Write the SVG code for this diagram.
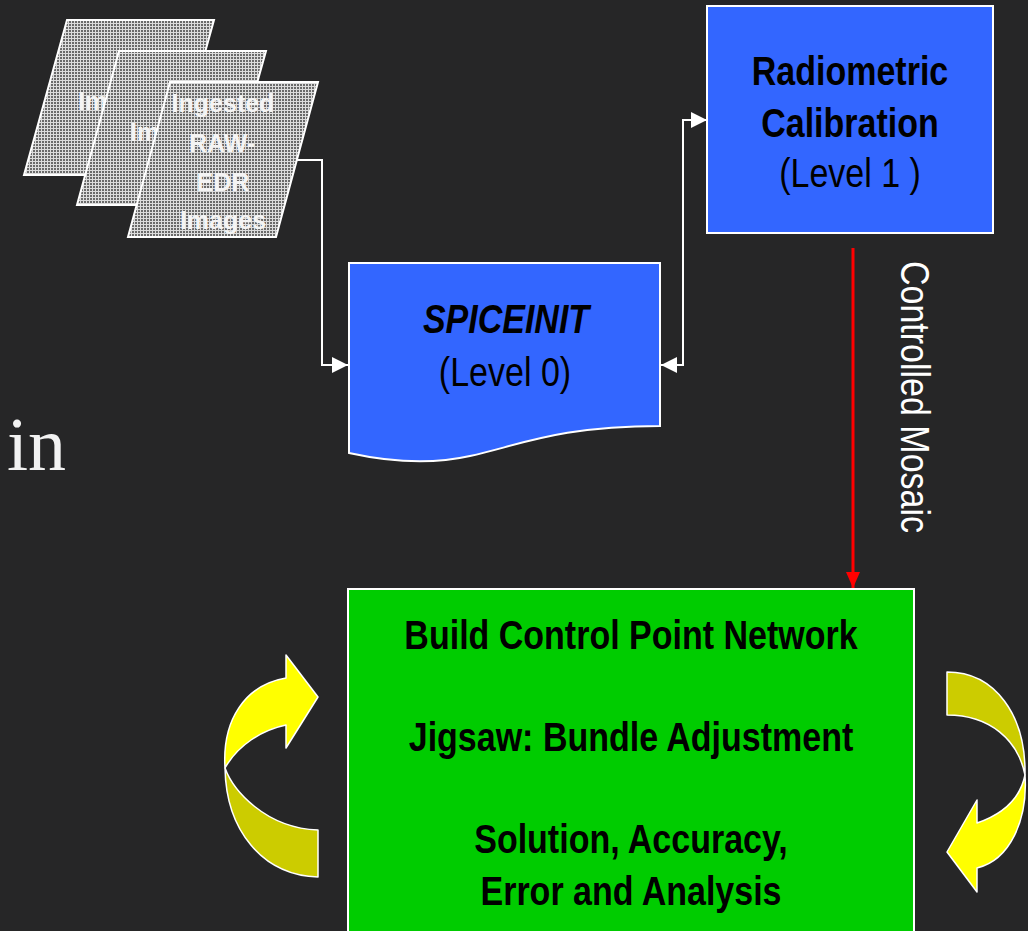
<svg xmlns="http://www.w3.org/2000/svg" width="1028" height="931" viewBox="0 0 1028 931">
  <style>
    .box { stroke: #ffffff; stroke-width: 2; }
    .blue { fill: #3366ff; }
    .green { fill: #00cc00; }
    .lbl { font-family: "Liberation Sans", Arial, sans-serif; font-size: 34px; fill: #000000; text-anchor: middle; }
    .b { font-weight: bold; }
    .bi { font-weight: bold; font-style: italic; }
    .img { fill: url(#dots); stroke: #ffffff; stroke-width: 2; }
    .imgtxt { font-family: "Liberation Sans", Arial, sans-serif; font-size: 25px; font-weight: bold; fill: #f4f4f4; }
    .conn { fill: none; stroke: #ffffff; stroke-width: 2; }
    .red { fill: none; stroke: #ff0000; stroke-width: 3; }
    .arrowF { fill: #ffff00; stroke: #ffffff; stroke-width: 1.5; stroke-linejoin: round; }
    .arrowB { fill: #cccc00; stroke: #ffffff; stroke-width: 1.5; stroke-linejoin: round; }
  </style>
  <defs>
    <pattern id="dots" width="3" height="3" patternUnits="userSpaceOnUse">
      <rect width="3" height="3" fill="#dcdcdc"/>
      <rect x="0" y="0" width="2" height="2" fill="#6a6a6a"/>
    </pattern>
    <marker id="wh" viewBox="0 0 16 16" refX="16" refY="8" markerWidth="16" markerHeight="16" markerUnits="userSpaceOnUse" orient="auto-start-reverse">
      <path d="M0,0 L16,8 L0,16 Z" fill="#ffffff"/>
    </marker>
    <marker id="rh" viewBox="0 0 16 16" refX="16" refY="8" markerWidth="16" markerHeight="16" markerUnits="userSpaceOnUse" orient="auto">
      <path d="M0,1 L16,8 L0,15 Z" fill="#ff0000"/>
    </marker>
  </defs>

  <rect width="1028" height="931" fill="#262627"/>

  <text x="7" y="470" font-family="Liberation Serif, 'Times New Roman', serif" font-size="76" fill="#f2f2f2">in</text>

  <g id="connectors">
    <path class="conn" d="M297,160 H322 V365 H348" marker-end="url(#wh)"/>
    <path class="conn" d="M661,365 H683 V120 H707" marker-start="url(#wh)" marker-end="url(#wh)"/>
    <path class="red" d="M853,248 V588" marker-end="url(#rh)"/>
  </g>

  <g id="images">
    <polygon class="img" points="67,20 214,20 171,175 24,175"/>
    <text class="imgtxt" x="78" y="110">Im</text>
    <polygon class="img" points="119,51 266,51 223,205 77,205"/>
    <text class="imgtxt" x="130" y="141">Im</text>
    <polygon class="img" points="170,82 318,82 276,237 128,237"/>
    <g class="imgtxt" text-anchor="middle">
      <text x="223" y="112">Ingested</text>
      <text x="222" y="152">RAW-</text>
      <text x="223" y="191">EDR</text>
      <text x="223" y="229">Images</text>
    </g>
  </g>

  <g id="spiceinit">
    <path class="box blue" d="M349,263 H660 V426 C560,426 520,445 470,456 C430,465 390,462 349,453 Z"/>
    <text class="lbl bi" transform="translate(506,333) scale(1,1.17)">SPICEINIT</text>
    <text class="lbl" transform="translate(505,386) scale(1,1.17)">(Level 0)</text>
  </g>

  <g id="radiometric">
    <rect class="box blue" x="707" y="6" width="286" height="227"/>
    <text class="lbl b" transform="translate(850,85) scale(1,1.17)">Radiometric</text>
    <text class="lbl b" transform="translate(850,137) scale(1,1.17)">Calibration</text>
    <text class="lbl" transform="translate(850,187) scale(1,1.17)">(Level 1 )</text>
  </g>

  <g id="mosaic-label">
    <text transform="translate(901,397) rotate(90) scale(1,1.2)" font-family="Liberation Sans, Arial, sans-serif" font-size="34" fill="#ffffff" text-anchor="middle">Controlled Mosaic</text>
  </g>

  <g id="bundle">
    <rect class="box green" x="348" y="589" width="566" height="360"/>
    <text class="lbl b" transform="translate(631,649) scale(1,1.17)">Build Control Point Network</text>
    <text class="lbl b" transform="translate(631,751) scale(1,1.17)">Jigsaw: Bundle Adjustment</text>
    <text class="lbl b" transform="translate(631,853) scale(1,1.17)">Solution, Accuracy,</text>
    <text class="lbl b" transform="translate(631,905) scale(1,1.17)">Error and Analysis</text>
  </g>

  <g id="loop-left">
    <path class="arrowB" d="M318,877 C262,875 226,830 225,768 C233,790 265,828 318,830 Z"/>
    <path class="arrowF" d="M225,768 C222,720 245,685 286,678 L286,655 L318,697 L286,748 L286,725 C262,730 238,745 225,768 Z"/>
  </g>

  <g id="loop-right">
    <path class="arrowB" d="M947,672 C995,672 1026,715 1025,775 C1018,740 990,715 947,715 Z"/>
    <path class="arrowF" d="M1025,775 C1028,820 1010,860 977,868 L977,892 L947,852 L977,800 L977,823 C1000,815 1020,800 1025,775 Z"/>
  </g>
</svg>
